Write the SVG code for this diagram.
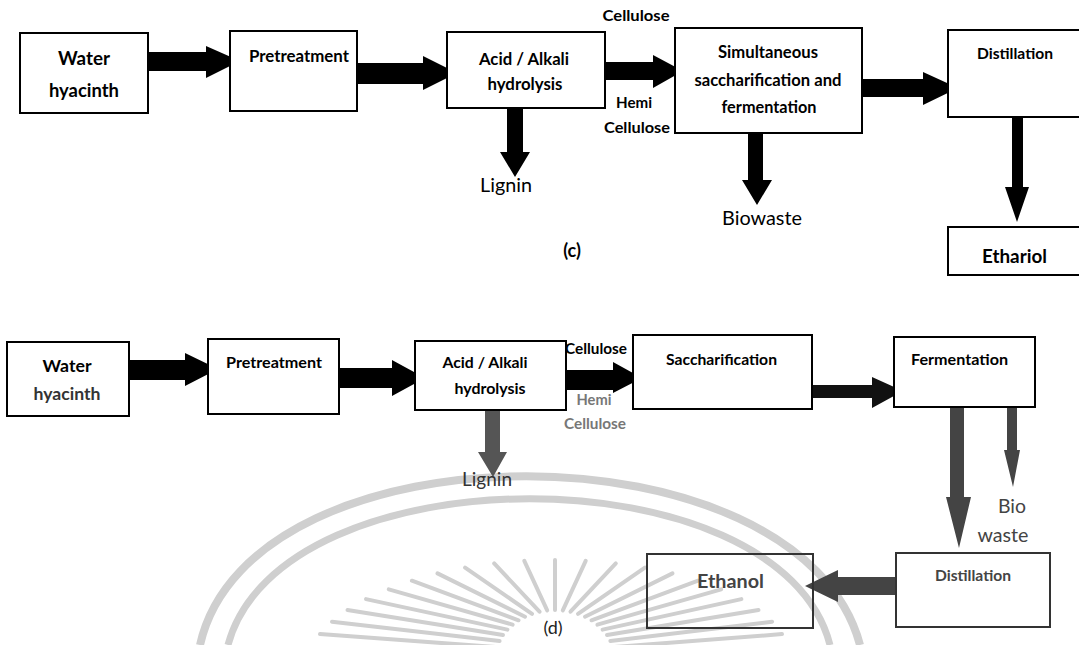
<svg xmlns="http://www.w3.org/2000/svg" width="1079" height="645" viewBox="0 0 1079 645">
<style>
.box{fill:#fff;stroke:#000;stroke-width:2}
.box2{fill:none;stroke:#333;stroke-width:2}
.b{font-family:Lato,"Liberation Sans",sans-serif;font-weight:bold;fill:#000}
.r{font-family:Lato,"Liberation Sans",sans-serif;font-weight:normal;fill:#000}
.m{text-anchor:middle}
.wm{stroke:#cfcfcf;fill:none}
.arr{fill:#000}
.garr{fill:#444}
</style>
<rect width="1079" height="645" fill="#fff"/>
<g id="watermark">
<path class="wm" stroke-width="8" d="M 200 645 C 250 420 800 420 860 645"/>
<path class="wm" stroke-width="7" d="M 228 645 C 280 450 780 450 830 645"/>
<g class="wm" stroke-width="4" stroke-linecap="round">
<line x1="495.5" y1="653.5" x2="312" y2="647"/>
<line x1="497" y1="647.1" x2="320" y2="634.1"/>
<line x1="499.6" y1="640.9" x2="332" y2="621.7"/>
<line x1="503" y1="635" x2="347.5" y2="610"/>
<line x1="507.4" y1="629.6" x2="366" y2="599.1"/>
<line x1="512.6" y1="624.6" x2="388.8" y2="589.3"/>
<line x1="518.5" y1="620.3" x2="411.9" y2="580.7"/>
<line x1="525" y1="616.7" x2="437.5" y2="573.4"/>
<line x1="532" y1="613.8" x2="465.1" y2="567.6"/>
<line x1="539.5" y1="611.7" x2="494.2" y2="563.4"/>
<line x1="547.2" y1="610.4" x2="524.3" y2="560.9"/>
<line x1="555" y1="610" x2="555" y2="560"/>
<line x1="562.8" y1="610.4" x2="585.7" y2="560.9"/>
<line x1="570.5" y1="611.7" x2="615.8" y2="563.4"/>
<line x1="578" y1="613.8" x2="644.9" y2="567.6"/>
<line x1="585" y1="616.7" x2="672.5" y2="573.4"/>
<line x1="591.5" y1="620.3" x2="698.1" y2="580.7"/>
<line x1="597.4" y1="624.6" x2="721.2" y2="589.3"/>
<line x1="602.6" y1="629.6" x2="741.4" y2="599.1"/>
<line x1="607" y1="635" x2="758.5" y2="610"/>
<line x1="610.4" y1="640.9" x2="772.1" y2="621.7"/>
<line x1="613" y1="647.1" x2="782" y2="634.1"/>
<line x1="614.5" y1="653.5" x2="788" y2="647"/>
</g>
</g>

<g id="connectors">
<polygon class="arr" points="145,52 206,52 206,46 240,61 206,78 206,71 145,71"/>
<polygon class="arr" points="357,63 423,63 423,56 457,73 423,90 423,84 357,84"/>
<polygon class="arr" points="605,62 653,62 653,55 683,71 653,88 653,80 605,80"/>
<polygon class="arr" points="862,79 923,79 923,72 958,88 923,105 923,97 862,97"/>
<polygon class="arr" points="507,108 523,108 523,152 530,152 515,177 500,152 507,152"/>
<polygon class="arr" points="748,132 763,132 763,180 772,180 757,205 742,180 748,180"/>
<polygon class="arr" points="1012,117 1023,117 1023,187 1029,187 1017,222 1005,187 1012,187"/>

<polygon class="arr" points="129,360 185,360 185,353 218,369 185,386 185,380 129,380"/>
<polygon class="arr" points="339,368 392,368 392,360 425,378 392,396 392,388 339,388"/>
<polygon class="arr" points="566,370 613,370 613,362 642,378 613,393 613,390 566,390"/>
<polygon fill="#111" points="812,385 872,385 872,377 903,391 872,408 872,398 812,398"/>
<polygon fill="#555" points="485,410 500,410 500,452 507,452 493,477 478,452 485,452"/>
<polygon class="garr" points="950,407 964,407 964,497 971,497 959,548 946,497 950,497"/>
<polygon class="garr" points="1007,407 1017,407 1017,450 1020,450 1013,487 1004,450 1007,450"/>
<polygon class="garr" points="896,577 838,577 838,570 805,586 838,602 838,595 896,595"/>
</g>

<!-- (c) -->
<g id="c-water">
<rect class="box" x="20" y="33" width="128" height="80"/>
<text class="b m" x="84" y="65" font-size="18" textLength="52" lengthAdjust="spacingAndGlyphs">Water</text>
<text class="b m" x="84" y="97" font-size="18" textLength="70" lengthAdjust="spacingAndGlyphs">hyacinth</text>
</g>
<g id="c-pre">
<rect class="box" x="230" y="31" width="127" height="80"/>
<text class="b" x="249" y="62" font-size="17" textLength="100" lengthAdjust="spacingAndGlyphs">Pretreatment</text>
</g>
<g id="c-acid">
<rect class="box" x="447" y="32" width="158" height="76"/>
<text class="b m" x="524" y="65" font-size="17" textLength="90" lengthAdjust="spacingAndGlyphs">Acid / Alkali</text>
<text class="b m" x="525" y="90" font-size="17" textLength="75" lengthAdjust="spacingAndGlyphs">hydrolysis</text>
</g>
<g id="c-labels">
<text class="b m" x="636" y="21" font-size="16" textLength="67" lengthAdjust="spacingAndGlyphs">Cellulose</text>
<text class="b m" x="634" y="108" font-size="16" textLength="36" lengthAdjust="spacingAndGlyphs">Hemi</text>
<text class="b m" x="637" y="133" font-size="16" textLength="66" lengthAdjust="spacingAndGlyphs">Cellulose</text>
</g>
<g id="c-lignin">
<text class="r" x="480" y="192" font-size="20" textLength="52" lengthAdjust="spacingAndGlyphs">Lignin</text>
</g>
<g id="c-ssf">
<rect class="box" x="675" y="28" width="187" height="105"/>
<text class="b m" x="768" y="58" font-size="16.5" textLength="100" lengthAdjust="spacingAndGlyphs">Simultaneous</text>
<text class="b m" x="768" y="86" font-size="16.5" textLength="147" lengthAdjust="spacingAndGlyphs">saccharification and</text>
<text class="b m" x="769" y="113" font-size="16.5" textLength="95" lengthAdjust="spacingAndGlyphs">fermentation</text>
</g>
<g id="c-biowaste">
<text class="r" x="722" y="225" font-size="20" textLength="80" lengthAdjust="spacingAndGlyphs">Biowaste</text>
</g>
<g id="c-dist">
<rect class="box" x="948" y="30" width="140" height="87"/>
<text class="b" x="977" y="59" font-size="15.5" textLength="76" lengthAdjust="spacingAndGlyphs">Distillation</text>
</g>
<g id="c-eth">
<rect class="box" x="948" y="227" width="140" height="48"/>
<text class="b" x="982" y="263" font-size="18" textLength="65" lengthAdjust="spacingAndGlyphs">Ethariol</text>
</g>
<text class="b m" x="572" y="257" font-size="18">(c)</text>

<!-- (d) -->
<g id="d-water">
<rect class="box" x="7" y="342" width="122" height="74"/>
<text class="b m" x="67" y="372" font-size="17" textLength="49" lengthAdjust="spacingAndGlyphs">Water</text>
<text class="b m" x="67" y="400" font-size="17" style="fill:#333" textLength="67" lengthAdjust="spacingAndGlyphs">hyacinth</text>
</g>
<g id="d-pre">
<rect class="box" x="208" y="339" width="131" height="75"/>
<text class="b" x="226" y="368" font-size="15.5" textLength="96" lengthAdjust="spacingAndGlyphs">Pretreatment</text>
</g>
<g id="d-acid">
<rect class="box" x="415" y="341" width="151" height="69"/>
<text class="b m" x="485" y="368" font-size="16" textLength="85" lengthAdjust="spacingAndGlyphs">Acid / Alkali</text>
<text class="b m" x="490" y="394" font-size="16" textLength="71" lengthAdjust="spacingAndGlyphs">hydrolysis</text>
</g>
<g id="d-labels">
<text class="b" x="565" y="354" font-size="15.5" textLength="62" lengthAdjust="spacingAndGlyphs">Cellulose</text>
<text class="b m" x="594" y="405" font-size="15" style="fill:#777" textLength="35" lengthAdjust="spacingAndGlyphs">Hemi</text>
<text class="b m" x="595" y="429" font-size="15" style="fill:#777" textLength="62" lengthAdjust="spacingAndGlyphs">Cellulose</text>
</g>
<g id="d-lignin">
<text class="r" x="462" y="486" font-size="19" style="fill:#333" textLength="50" lengthAdjust="spacingAndGlyphs">Lignin</text>
</g>
<g id="d-sacch">
<rect class="box" x="633" y="335" width="179" height="74"/>
<text class="b" x="666" y="365" font-size="15.5" textLength="111" lengthAdjust="spacingAndGlyphs">Saccharification</text>
</g>
<g id="d-ferm">
<rect class="box" x="894" y="337" width="141" height="70"/>
<text class="b" x="911" y="365" font-size="15.5" textLength="97" lengthAdjust="spacingAndGlyphs">Fermentation</text>
</g>
<g id="d-biowaste">
<text class="r m" x="1012" y="513" font-size="19" style="fill:#444" textLength="28" lengthAdjust="spacingAndGlyphs">Bio</text>
<text class="r m" x="1003" y="542" font-size="19" style="fill:#444" textLength="51" lengthAdjust="spacingAndGlyphs">waste</text>
</g>
<g id="d-dist">
<rect class="box2" x="896" y="553" width="154" height="74"/>
<text class="b" x="935" y="581" font-size="15" style="fill:#444" textLength="76" lengthAdjust="spacingAndGlyphs">Distillation</text>
</g>
<g id="d-eth">
<rect class="box2" x="647" y="554" width="166" height="74"/>
<text class="b" x="697" y="588" font-size="18" style="fill:#444" textLength="67" lengthAdjust="spacingAndGlyphs">Ethanol</text>
</g>
<text class="r m" x="553" y="634" font-size="18" style="fill:#222">(d)</text>
</svg>
